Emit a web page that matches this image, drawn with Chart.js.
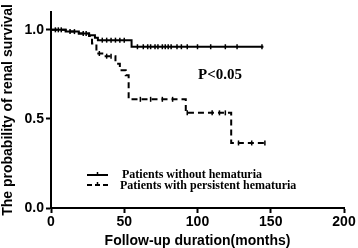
<!DOCTYPE html>
<html>
<head>
<meta charset="utf-8">
<script src="https://cdn.jsdelivr.net/npm/chart.js@4/dist/chart.umd.min.js"></script>
<style>
  html, body { margin: 0; padding: 0; background: #fff; }
  #wrap { width: 358px; height: 248px; }
</style>
</head>
<body>
<div id="wrap"><canvas id="kmChart"></canvas></div>
<script>
// Kaplan-Meier steps (months, survival probability)
const noHemaMonths = [0, 10, 19, 26, 30, 32, 55, 145];
const noHemaValues = [1.0, 0.99, 0.98, 0.97, 0.955, 0.942, 0.905, 0.905];

const hemaMonths = [0, 10, 19, 26, 28, 31, 35, 44, 47, 51, 53, 92, 123, 146];
const hemaValues = [1.0, 0.99, 0.98, 0.965, 0.923, 0.867, 0.852, 0.81, 0.773, 0.745, 0.61, 0.534, 0.365, 0.365];

// censoring ticks
const noHemaCensorMonths = [3, 5, 7, 13, 16, 22, 24, 35, 38, 41, 44, 47, 50, 59, 63, 66, 68, 71, 73, 76, 78, 80, 82, 86, 89, 93, 100, 109, 119, 127, 144];
const noHemaCensorValues = [1.0, 1.0, 1.0, 0.99, 0.99, 0.98, 0.98, 0.942, 0.942, 0.942, 0.942, 0.942, 0.942, 0.905, 0.905, 0.905, 0.905, 0.905, 0.905, 0.905, 0.905, 0.905, 0.905, 0.905, 0.905, 0.905, 0.905, 0.905, 0.905, 0.905, 0.905];
const hemaCensorMonths = [33, 38, 41, 61, 68, 76, 83, 93, 110, 115, 119, 128, 137, 146];
const hemaCensorValues = [0.867, 0.852, 0.852, 0.61, 0.61, 0.61, 0.61, 0.534, 0.534, 0.534, 0.534, 0.365, 0.365, 0.365];

const xTicks = [0, 50, 100, 150, 200];
const yTicks = [0, 0.5, 1.0];
const seriesNames = ["Patients without hematuria", "Patients with persistent hematuria"];

const pts = (xs, ys) => xs.map((x, i) => ({ x: x, y: ys[i] }));

// legend and p-value drawn inside the plot
const annotations = {
  id: "annotations",
  afterDraw(chart) {
    const c = chart.ctx;
    c.save();
    c.strokeStyle = "#000";
    c.fillStyle = "#000";
    c.lineWidth = 2;
    // solid sample
    c.setLineDash([]);
    c.beginPath(); c.moveTo(87, 175); c.lineTo(108, 175); c.stroke();
    c.lineWidth = 1.5;
    c.beginPath(); c.moveTo(97.5, 172); c.lineTo(97.5, 175); c.stroke();
    // dashed sample
    c.lineWidth = 2;
    c.setLineDash([5, 3]);
    c.beginPath(); c.moveTo(87, 185); c.lineTo(108, 185); c.stroke();
    c.setLineDash([]);
    c.lineWidth = 1.5;
    c.beginPath(); c.moveTo(97.5, 182); c.lineTo(97.5, 185); c.stroke();

    c.font = "bold 12px 'Liberation Serif', 'Times New Roman', serif";
    c.textBaseline = "middle";
    c.textAlign = "left";
    c.fillText(seriesNames[0], 122, 175);
    c.fillText(seriesNames[1], 120, 186);

    c.font = "bold 15px 'Liberation Serif', 'Times New Roman', serif";
    c.textAlign = "center";
    c.fillText("P<0.05", 220, 75);
    c.restore();
  }
};

const axisFont = { family: "'Liberation Sans', Arial, sans-serif", size: 14, weight: "bold" };

new Chart(document.getElementById("kmChart").getContext("2d"), {
  type: "line",
  data: {
    datasets: [
      {
        label: seriesNames[0],
        data: pts(noHemaMonths, noHemaValues),
        borderColor: "#000",
        borderWidth: 2,
        stepped: "before",
        pointRadius: 0,
        fill: false,
      },
      {
        label: seriesNames[1],
        data: pts(hemaMonths, hemaValues),
        borderColor: "#000",
        borderWidth: 2,
        borderDash: [6, 4],
        stepped: "before",
        pointRadius: 0,
        fill: false,
      },
      {
        label: "censored 1",
        data: pts(noHemaCensorMonths, noHemaCensorValues),
        showLine: false,
        pointStyle: "line",
        rotation: 90,
        pointRadius: 2.5,
        pointBorderWidth: 1.5,
        pointBorderColor: "#000",
      },
      {
        label: "censored 2",
        data: pts(hemaCensorMonths, hemaCensorValues),
        showLine: false,
        pointStyle: "line",
        rotation: 90,
        pointRadius: 2.5,
        pointBorderWidth: 1.5,
        pointBorderColor: "#000",
      },
    ],
  },
  options: {
    responsive: true,
    maintainAspectRatio: false,
    animation: false,
    layout: { padding: { top: 12, right: 14, left: 0, bottom: 0 } },
    plugins: {
      legend: { display: false },
      tooltip: { enabled: false },
    },
    scales: {
      x: {
        type: "linear",
        min: 0,
        max: 200,
        afterFit: (s) => { s.height = 40; },
        afterBuildTicks: (s) => { s.ticks = xTicks.map((v) => ({ value: v })); },
        border: { display: true, color: "#000", width: 2 },
        grid: { drawOnChartArea: false, drawTicks: true, tickLength: 5, tickWidth: 2, tickColor: "#000" },
        ticks: { color: "#000", font: axisFont, padding: 1, maxRotation: 0 },
        title: {
          display: true,
          text: "Follow-up duration(months)",
          color: "#000",
          font: { family: axisFont.family, size: 14, weight: "bold", lineHeight: 1 },
          padding: { top: 0, bottom: 0 },
        },
      },
      y: {
        type: "linear",
        min: 0,
        max: 1.1,
        afterFit: (s) => { s.width = 51; },
        afterBuildTicks: (s) => { s.ticks = yTicks.map((v) => ({ value: v })); },
        border: { display: true, color: "#000", width: 2 },
        grid: { drawOnChartArea: false, drawTicks: true, tickLength: 5, tickWidth: 2, tickColor: "#000" },
        ticks: {
          color: "#000",
          font: axisFont,
          padding: 2,
          callback: (v) => Number(v).toFixed(1),
        },
        title: {
          display: true,
          text: "The probability of renal survival",
          color: "#000",
          font: { family: axisFont.family, size: 14, weight: "bold", lineHeight: 1 },
          padding: { top: 1, bottom: 0 },
        },
      },
    },
  },
  plugins: [annotations],
});
</script>
</body>
</html>
